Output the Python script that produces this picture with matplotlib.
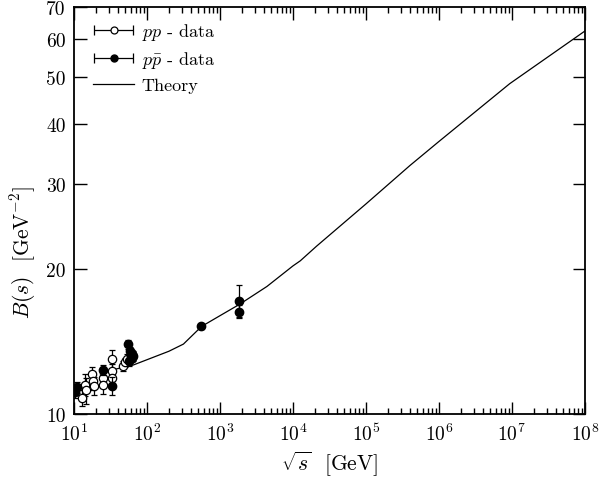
import numpy as np
import matplotlib
matplotlib.use('Agg')
import matplotlib.pyplot as plt
import matplotlib.ticker as ticker
from matplotlib.legend_handler import HandlerErrorbar

plt.rcParams['font.family'] = 'cmr10'
plt.rcParams['mathtext.fontset'] = 'cm'
plt.rcParams['axes.formatter.use_mathtext'] = True

# pp data (open circles): sqrt(s) [GeV], B [GeV^-2], error
pp_sqrts = [12.7, 14.1, 14.7, 17.4, 18.2, 19.0, 24.6, 24.6, 33.0, 33.0, 33.0, 47.4, 50.0, 53.0, 62.0]
pp_B = [10.8, 11.5, 11.2, 12.1, 11.7, 11.45, 11.9, 11.5, 13.0, 12.3, 11.9, 12.6, 12.8, 13.0, 13.1]
pp_err = [0.4, 0.6, 0.7, 0.4, 0.5, 0.5, 0.6, 0.5, 0.6, 0.4, 0.5, 0.3, 0.3, 0.3, 0.3]

# ppbar data (filled circles)
ppbar_sqrts = [10.3, 11.1, 24.6, 33.0, 55.6, 58.5, 62.0, 65.0, 60.0, 57.0, 546.0, 1800.0, 1800.0]
ppbar_B = [11.1, 11.36, 12.34, 11.45, 13.97, 13.5, 13.3, 13.2, 13.1, 12.9, 15.2, 17.2, 16.3]
ppbar_err = [0.3, 0.3, 0.3, 0.5, 0.3, 0.3, 0.3, 0.3, 0.3, 0.3, 0.2, 1.3, 0.5]

# theory curve
th_sqrts = [23, 30, 65, 200, 316, 560, 1000, 1860, 4400, 1e4, 1.26e4, 2.1e4, 1e5, 4e5, 1e6, 9.3e6, 1e8]
th_B = [12.1, 12.3, 12.64, 13.5, 13.97, 15.2, 16.0, 16.9, 18.4, 20.3, 20.8, 22.3, 27.3, 32.8, 36.8, 48.5, 62.4]

fig = plt.figure(figsize=(5.99, 4.81), dpi=100)
ax = fig.add_axes([0.1235, 0.1372, 0.853, 0.8462])

ax.plot(th_sqrts, th_B, color='black', lw=0.9, zorder=1)
ax.errorbar(pp_sqrts, pp_B, yerr=pp_err, fmt='o', ms=6, mfc='white', mec='black', mew=0.9,
            ecolor='black', elinewidth=0.9, capsize=2.5, capthick=0.9, zorder=2)
ax.errorbar(ppbar_sqrts, ppbar_B, yerr=ppbar_err, fmt='o', ms=6, mfc='black', mec='black',
            ecolor='black', elinewidth=0.9, capsize=2.5, capthick=0.9, zorder=3)

# legend proxies with horizontal bars
h1 = ax.errorbar([np.nan], [np.nan], xerr=[1], fmt='o', ms=5, mfc='white', mec='black', mew=0.9,
                 ecolor='black', elinewidth=0.9, capsize=3.5, capthick=0.9, label=r'$pp$ - data')
h2 = ax.errorbar([np.nan], [np.nan], xerr=[1], fmt='o', ms=5, mfc='black', mec='black',
                 ecolor='black', elinewidth=0.9, capsize=3.5, capthick=0.9, label=r'$p\bar{p}$ - data')
h3, = ax.plot([], [], color='black', lw=0.9, label='Theory')

ax.set_xscale('log')
ax.set_yscale('log')
ax.set_xlim(10, 1e8)
ax.set_ylim(10, 70)

ax.xaxis.set_major_locator(ticker.LogLocator(base=10, numticks=12))
ax.xaxis.set_minor_locator(ticker.LogLocator(base=10, subs=np.arange(2, 10), numticks=12))
ax.xaxis.set_minor_formatter(ticker.NullFormatter())
ax.yaxis.set_major_locator(ticker.FixedLocator([10, 20, 30, 40, 50, 60, 70]))
ax.yaxis.set_major_formatter(ticker.FixedFormatter(['10', '20', '30', '40', '50', '60', '70']))
ax.yaxis.set_minor_locator(ticker.NullLocator())

ax.tick_params(which='both', direction='in', top=True, right=True, labelsize=14, width=1.0)
ax.tick_params(which='major', length=9, pad=6)
ax.tick_params(which='minor', length=4.5)
for sp in ax.spines.values():
    sp.set_linewidth(1.3)

ax.set_xlabel(r'$\sqrt{s}$  [GeV]', fontsize=15.5)
ax.set_ylabel(r'$B(s)$  [GeV$^{-2}$]', fontsize=15.5)
ax.yaxis.set_label_coords(-0.07, 0.40)

ax.legend(handles=[h1, h2, h3], loc='upper left', bbox_to_anchor=(0.005, 1.005), frameon=False,
          fontsize=13, handlelength=2.3, handletextpad=0.4, labelspacing=0.4,
          handler_map={type(h1): HandlerErrorbar(xerr_size=1.1)})

fig.savefig('out.png', dpi=100)
